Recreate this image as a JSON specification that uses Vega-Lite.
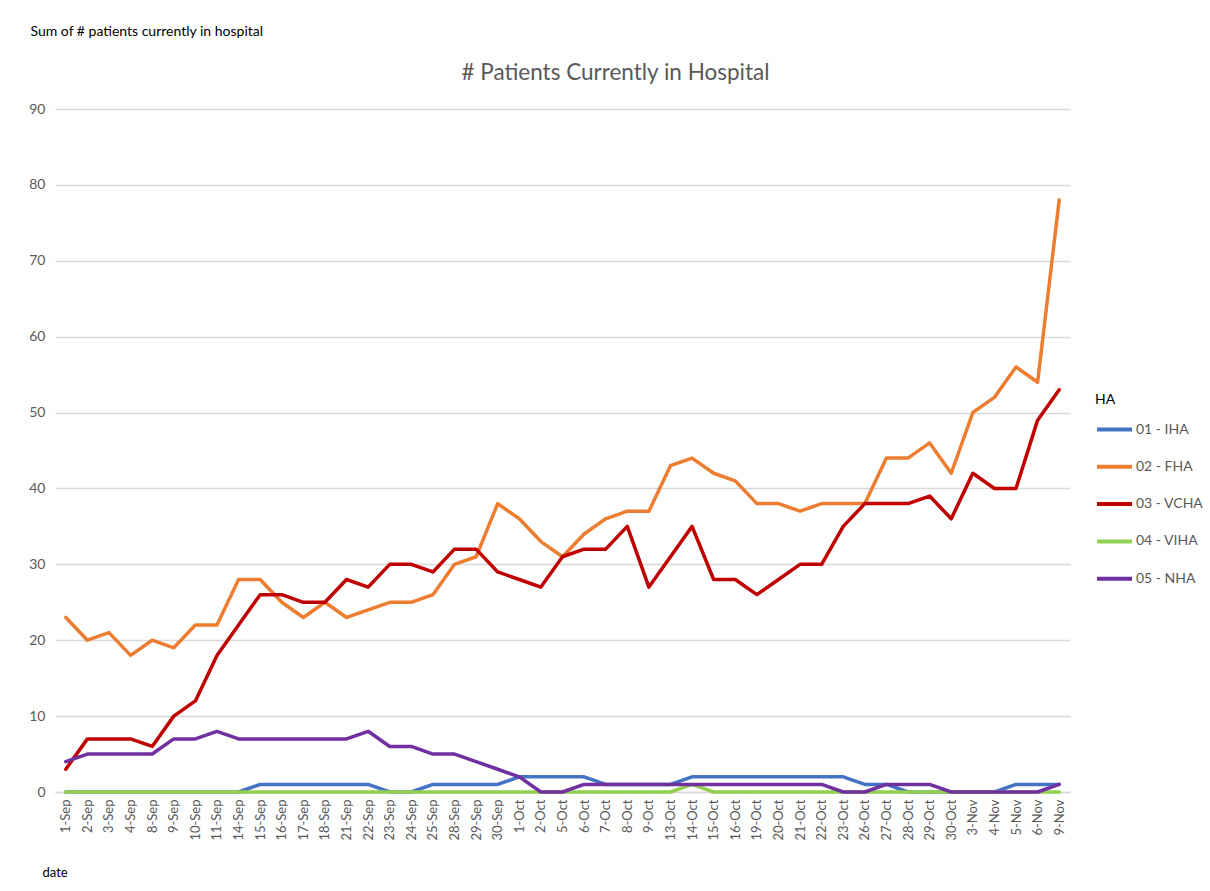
{
  "$schema": "https://vega.github.io/schema/vega-lite/v6.json",
  "autosize": {"type": "none"},
  "width": 1015,
  "height": 683,
  "padding": {"left": 55, "top": 109, "right": 140, "bottom": 99},
  "background": "white",
  "title": {
    "text": "# Patients Currently in Hospital",
    "font": "Lato",
    "fontSize": 22.5,
    "fontWeight": "normal",
    "color": "#595959",
    "anchor": "middle",
    "dx": 53,
    "dy": 86,
    "offset": 26
  },
  "data": {
    "values": [
      {"date": "1-Sep", "IHA": 0, "FHA": 23, "VCHA": 3, "VIHA": 0, "NHA": 4},
      {"date": "2-Sep", "IHA": 0, "FHA": 20, "VCHA": 7, "VIHA": 0, "NHA": 5},
      {"date": "3-Sep", "IHA": 0, "FHA": 21, "VCHA": 7, "VIHA": 0, "NHA": 5},
      {"date": "4-Sep", "IHA": 0, "FHA": 18, "VCHA": 7, "VIHA": 0, "NHA": 5},
      {"date": "8-Sep", "IHA": 0, "FHA": 20, "VCHA": 6, "VIHA": 0, "NHA": 5},
      {"date": "9-Sep", "IHA": 0, "FHA": 19, "VCHA": 10, "VIHA": 0, "NHA": 7},
      {"date": "10-Sep", "IHA": 0, "FHA": 22, "VCHA": 12, "VIHA": 0, "NHA": 7},
      {"date": "11-Sep", "IHA": 0, "FHA": 22, "VCHA": 18, "VIHA": 0, "NHA": 8},
      {"date": "14-Sep", "IHA": 0, "FHA": 28, "VCHA": 22, "VIHA": 0, "NHA": 7},
      {"date": "15-Sep", "IHA": 1, "FHA": 28, "VCHA": 26, "VIHA": 0, "NHA": 7},
      {"date": "16-Sep", "IHA": 1, "FHA": 25, "VCHA": 26, "VIHA": 0, "NHA": 7},
      {"date": "17-Sep", "IHA": 1, "FHA": 23, "VCHA": 25, "VIHA": 0, "NHA": 7},
      {"date": "18-Sep", "IHA": 1, "FHA": 25, "VCHA": 25, "VIHA": 0, "NHA": 7},
      {"date": "21-Sep", "IHA": 1, "FHA": 23, "VCHA": 28, "VIHA": 0, "NHA": 7},
      {"date": "22-Sep", "IHA": 1, "FHA": 24, "VCHA": 27, "VIHA": 0, "NHA": 8},
      {"date": "23-Sep", "IHA": 0, "FHA": 25, "VCHA": 30, "VIHA": 0, "NHA": 6},
      {"date": "24-Sep", "IHA": 0, "FHA": 25, "VCHA": 30, "VIHA": 0, "NHA": 6},
      {"date": "25-Sep", "IHA": 1, "FHA": 26, "VCHA": 29, "VIHA": 0, "NHA": 5},
      {"date": "28-Sep", "IHA": 1, "FHA": 30, "VCHA": 32, "VIHA": 0, "NHA": 5},
      {"date": "29-Sep", "IHA": 1, "FHA": 31, "VCHA": 32, "VIHA": 0, "NHA": 4},
      {"date": "30-Sep", "IHA": 1, "FHA": 38, "VCHA": 29, "VIHA": 0, "NHA": 3},
      {"date": "1-Oct", "IHA": 2, "FHA": 36, "VCHA": 28, "VIHA": 0, "NHA": 2},
      {"date": "2-Oct", "IHA": 2, "FHA": 33, "VCHA": 27, "VIHA": 0, "NHA": 0},
      {"date": "5-Oct", "IHA": 2, "FHA": 31, "VCHA": 31, "VIHA": 0, "NHA": 0},
      {"date": "6-Oct", "IHA": 2, "FHA": 34, "VCHA": 32, "VIHA": 0, "NHA": 1},
      {"date": "7-Oct", "IHA": 1, "FHA": 36, "VCHA": 32, "VIHA": 0, "NHA": 1},
      {"date": "8-Oct", "IHA": 1, "FHA": 37, "VCHA": 35, "VIHA": 0, "NHA": 1},
      {"date": "9-Oct", "IHA": 1, "FHA": 37, "VCHA": 27, "VIHA": 0, "NHA": 1},
      {"date": "13-Oct", "IHA": 1, "FHA": 43, "VCHA": 31, "VIHA": 0, "NHA": 1},
      {"date": "14-Oct", "IHA": 2, "FHA": 44, "VCHA": 35, "VIHA": 1, "NHA": 1},
      {"date": "15-Oct", "IHA": 2, "FHA": 42, "VCHA": 28, "VIHA": 0, "NHA": 1},
      {"date": "16-Oct", "IHA": 2, "FHA": 41, "VCHA": 28, "VIHA": 0, "NHA": 1},
      {"date": "19-Oct", "IHA": 2, "FHA": 38, "VCHA": 26, "VIHA": 0, "NHA": 1},
      {"date": "20-Oct", "IHA": 2, "FHA": 38, "VCHA": 28, "VIHA": 0, "NHA": 1},
      {"date": "21-Oct", "IHA": 2, "FHA": 37, "VCHA": 30, "VIHA": 0, "NHA": 1},
      {"date": "22-Oct", "IHA": 2, "FHA": 38, "VCHA": 30, "VIHA": 0, "NHA": 1},
      {"date": "23-Oct", "IHA": 2, "FHA": 38, "VCHA": 35, "VIHA": 0, "NHA": 0},
      {"date": "26-Oct", "IHA": 1, "FHA": 38, "VCHA": 38, "VIHA": 0, "NHA": 0},
      {"date": "27-Oct", "IHA": 1, "FHA": 44, "VCHA": 38, "VIHA": 0, "NHA": 1},
      {"date": "28-Oct", "IHA": 0, "FHA": 44, "VCHA": 38, "VIHA": 0, "NHA": 1},
      {"date": "29-Oct", "IHA": 0, "FHA": 46, "VCHA": 39, "VIHA": 0, "NHA": 1},
      {"date": "30-Oct", "IHA": 0, "FHA": 42, "VCHA": 36, "VIHA": 0, "NHA": 0},
      {"date": "3-Nov", "IHA": 0, "FHA": 50, "VCHA": 42, "VIHA": 0, "NHA": 0},
      {"date": "4-Nov", "IHA": 0, "FHA": 52, "VCHA": 40, "VIHA": 0, "NHA": 0},
      {"date": "5-Nov", "IHA": 1, "FHA": 56, "VCHA": 40, "VIHA": 0, "NHA": 0},
      {"date": "6-Nov", "IHA": 1, "FHA": 54, "VCHA": 49, "VIHA": 0, "NHA": 0},
      {"date": "9-Nov", "IHA": 1, "FHA": 78, "VCHA": 53, "VIHA": 0, "NHA": 1}
    ]
  },
  "transform": [
    {"fold": ["IHA", "FHA", "VCHA", "VIHA", "NHA"], "as": ["HA", "patients"]}
  ],
  "mark": {"type": "line", "strokeWidth": 3.5, "strokeJoin": "round", "strokeCap": "round"},
  "encoding": {
    "x": {
      "field": "date",
      "type": "ordinal",
      "sort": null,
      "scale": {"type": "point", "padding": 0.5},
      "axis": {
        "title": "date",
        "titleFont": "Lato",
        "titleFontSize": 13,
        "titleFontWeight": "normal",
        "titleColor": "#000000",
        "titleAnchor": "start",
        "titleAlign": "left",
        "titleBaseline": "middle",
        "titleX": -13,
        "titleY": 80,
        "labelAngle": -90,
        "labelFont": "Lato",
        "labelFontSize": 13,
        "labelColor": "#595959",
        "labelPadding": 7,
        "ticks": false,
        "domain": true,
        "domainColor": "#d9d9d9",
        "domainWidth": 1.5,
        "grid": false
      }
    },
    "y": {
      "field": "patients",
      "type": "quantitative",
      "scale": {"domain": [0, 90]},
      "axis": {
        "title": "Sum of # patients currently in hospital",
        "titleFont": "Lato",
        "titleFontSize": 14,
        "titleFontWeight": "normal",
        "titleColor": "#000000",
        "titleAngle": 0,
        "titleAlign": "left",
        "titleBaseline": "middle",
        "titleAnchor": null,
        "titleX": -25,
        "titleY": -78,
        "values": [0, 10, 20, 30, 40, 50, 60, 70, 80, 90],
        "labelFont": "Lato",
        "labelFontSize": 14,
        "labelColor": "#595959",
        "labelPadding": 10,
        "ticks": false,
        "domain": false,
        "grid": true,
        "gridColor": "#d9d9d9",
        "gridWidth": 1.3
      }
    },
    "color": {
      "field": "HA",
      "type": "nominal",
      "scale": {
        "domain": ["IHA", "FHA", "VCHA", "VIHA", "NHA"],
        "range": ["#4472C4", "#ED7D31", "#C00000", "#92D050", "#7030A0"]
      },
      "legend": {
        "title": "HA",
        "orient": "none",
        "legendX": 1040,
        "legendY": 284,
        "titleFont": "Lato",
        "titleFontSize": 14,
        "titleFontWeight": "normal",
        "titleColor": "#000000",
        "titlePadding": 3,
        "labelFont": "Lato",
        "labelFontSize": 14,
        "labelColor": "#595959",
        "labelOffset": 2,
        "symbolType": "stroke",
        "symbolSize": 1225,
        "symbolStrokeWidth": 4,
        "rowPadding": 9.3,
        "labelExpr": "'0' + (indexof(['IHA','FHA','VCHA','VIHA','NHA'], datum.label) + 1) + ' - ' + datum.label"
      }
    }
  },
  "config": {
    "view": {"stroke": null}
  }
}
